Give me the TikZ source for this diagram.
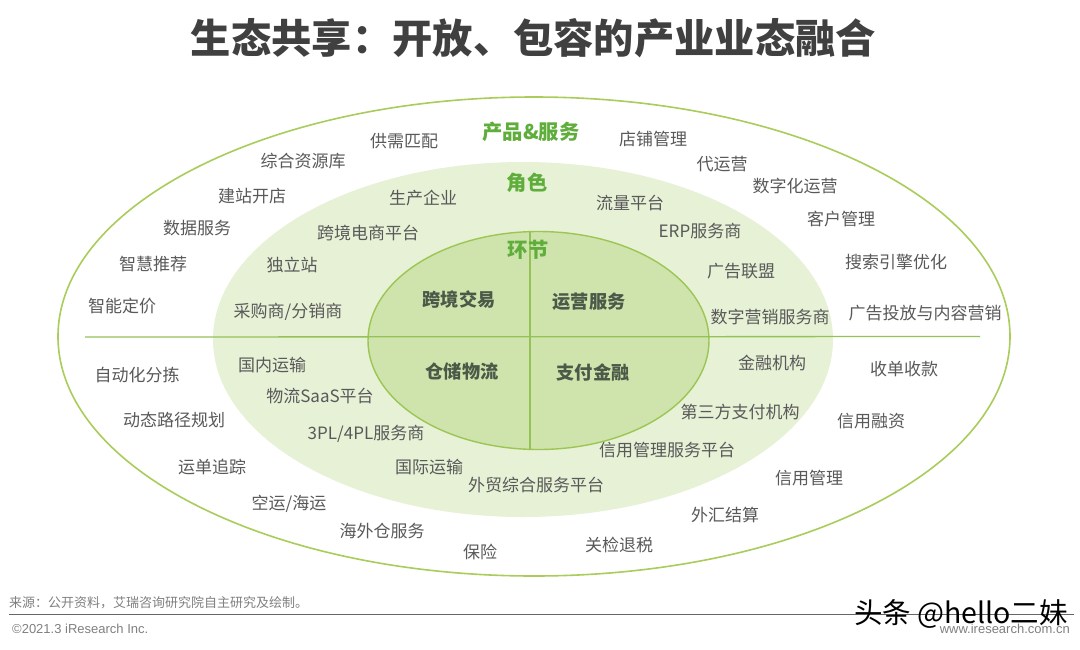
\documentclass[tikz,border=0pt]{standalone}
\usepackage{fontspec}
\usetikzlibrary{shapes.geometric}
\setmainfont{Noto Sans CJK SC}
\newfontfamily\latinfont{Liberation Sans}
\definecolor{ringline}{HTML}{A9CC5B}
\definecolor{midfill}{HTML}{E6F1D6}
\definecolor{innerfill}{HTML}{CFE3AD}
\definecolor{innerline}{HTML}{9CC653}
\definecolor{axisline}{HTML}{94C256}
\definecolor{headgreen}{HTML}{5FAE3C}
\definecolor{labelgray}{HTML}{595959}
\definecolor{boldgray}{HTML}{4A5A48}
\definecolor{titlegray}{HTML}{404040}
\tikzset{
  x=1pt,y=-1pt,
  lbl/.style={font=\fontsize{17}{20}\selectfont,text=labelgray,inner sep=0pt,yshift=-0.8pt},
  head/.style={font=\fontsize{20.3}{24}\selectfont\bfseries,text=headgreen,inner sep=0pt},
  core/.style={font=\fontsize{18.2}{22}\selectfont\bfseries,text=boldgray,inner sep=0pt},
  axis/.style={draw=axisline,line width=1.3pt},
  oval/.style={ellipse,inner sep=0pt,outer sep=0pt},
  foot/.style={inner sep=0pt,text=gray},
}
\begin{document}
\begin{tikzpicture}
\useasboundingbox[fill=white] (0,0) rectangle (1080,649);
\node[font=\fontsize{40.3}{46}\selectfont\bfseries,text=titlegray,inner sep=0pt] (title) at (533.5,38) {生态共享：开放、包容的产业业态融合};
% ellipses
\node[oval,draw=ringline,line width=1.6pt,fill=white,minimum width=952pt,minimum height=479pt] (outer) at (534,336.5) {};
\node[oval,fill=midfill,minimum width=620pt,minimum height=355pt] (middle) at (523,339.5) {};
\node[oval,draw=innerline,line width=1.4pt,fill=innerfill,minimum width=341pt,minimum height=218pt] (inner) at (538.5,340.5) {};
% axes
\coordinate (axisW) at (85,337);
\coordinate (axisE) at (980,336.5);
\coordinate (axisN) at (530,232);
\coordinate (axisS) at (530,449);
\draw[axis] (axisW) -- (axisE);
\draw[axis] (axisN) -- (axisS);
% headings
\node[head] (h1) at (531,132) {产品\&服务};
\node[head] (h2) at (527,183) {角色};
\node[head] (h3) at (528,250) {环节};
% core
\node[core] (c1) at (459,300) {跨境交易};
\node[core] (c2) at (589,302) {运营服务};
\node[core] (c3) at (462,372) {仓储物流};
\node[core] (c4) at (593,372) {支付金融};
% middle ring
\node[lbl] (m1) at (423,197) {生产企业};
\node[lbl] (m2) at (630,202) {流量平台};
\node[lbl] (m3) at (368,232) {跨境电商平台};
\node[lbl] (m4) at (700,230) {ERP服务商};
\node[lbl] (m5) at (292,264) {独立站};
\node[lbl] (m6) at (741,270) {广告联盟};
\node[lbl] (m7) at (288,311) {采购商/分销商};
\node[lbl] (m8) at (770,316) {数字营销服务商};
\node[lbl] (m9) at (272,364) {国内运输};
\node[lbl] (m10) at (772,362) {金融机构};
\node[lbl] (m11) at (320,395) {物流SaaS平台};
\node[lbl] (m12) at (740,411) {第三方支付机构};
\node[lbl] (m13) at (366,433) {3PL/4PL服务商};
\node[lbl] (m14) at (667,449) {信用管理服务平台};
\node[lbl] (m15) at (429,466) {国际运输};
\node[lbl] (m16) at (536,484) {外贸综合服务平台};
% outer ring
\node[lbl] (o1) at (404,140) {供需匹配};
\node[lbl] (o2) at (653,138) {店铺管理};
\node[lbl] (o3) at (303,160) {综合资源库};
\node[lbl] (o4) at (722,163) {代运营};
\node[lbl] (o5) at (795,185) {数字化运营};
\node[lbl] (o6) at (252,195) {建站开店};
\node[lbl] (o7) at (841,218) {客户管理};
\node[lbl] (o8) at (197,227) {数据服务};
\node[lbl] (o9) at (153,263) {智慧推荐};
\node[lbl] (o10) at (896,261) {搜索引擎优化};
\node[lbl] (o11) at (122,305) {智能定价};
\node[lbl] (o12) at (925,312) {广告投放与内容营销};
\node[lbl] (o13) at (137,374) {自动化分拣};
\node[lbl] (o14) at (904,368) {收单收款};
\node[lbl] (o15) at (174,419) {动态路径规划};
\node[lbl] (o16) at (871,420) {信用融资};
\node[lbl] (o17) at (212,466) {运单追踪};
\node[lbl] (o18) at (809,477) {信用管理};
\node[lbl] (o19) at (289,503) {空运/海运};
\node[lbl] (o20) at (725,514) {外汇结算};
\node[lbl] (o21) at (382,530) {海外仓服务};
\node[lbl] (o22) at (619,544) {关检退税};
\node[lbl] (o23) at (480,551) {保险};
% footer
\node[foot,anchor=west,font=\fontsize{13}{15}\selectfont] (src) at (9,603) {来源：公开资料，艾瑞咨询研究院自主研究及绘制。};
\coordinate (ruleW) at (9,614);
\coordinate (ruleE) at (1074,614);
\draw[draw=black!60,line width=1pt] (ruleW) -- (ruleE);
\node[foot,anchor=west,font=\latinfont\fontsize{13}{15}\selectfont] (copy) at (12,629) {©2021.3 iResearch Inc.};
\node[foot,anchor=east,font=\latinfont\fontsize{13}{15}\selectfont] (web) at (1070,629) {www.iresearch.com.cn};
% watermark
\node[inner sep=0pt,font=\fontsize{28.5}{32}\selectfont,text=black] (mark) at (961,614) {头条 @hello二妹};
\end{tikzpicture}
\end{document}
